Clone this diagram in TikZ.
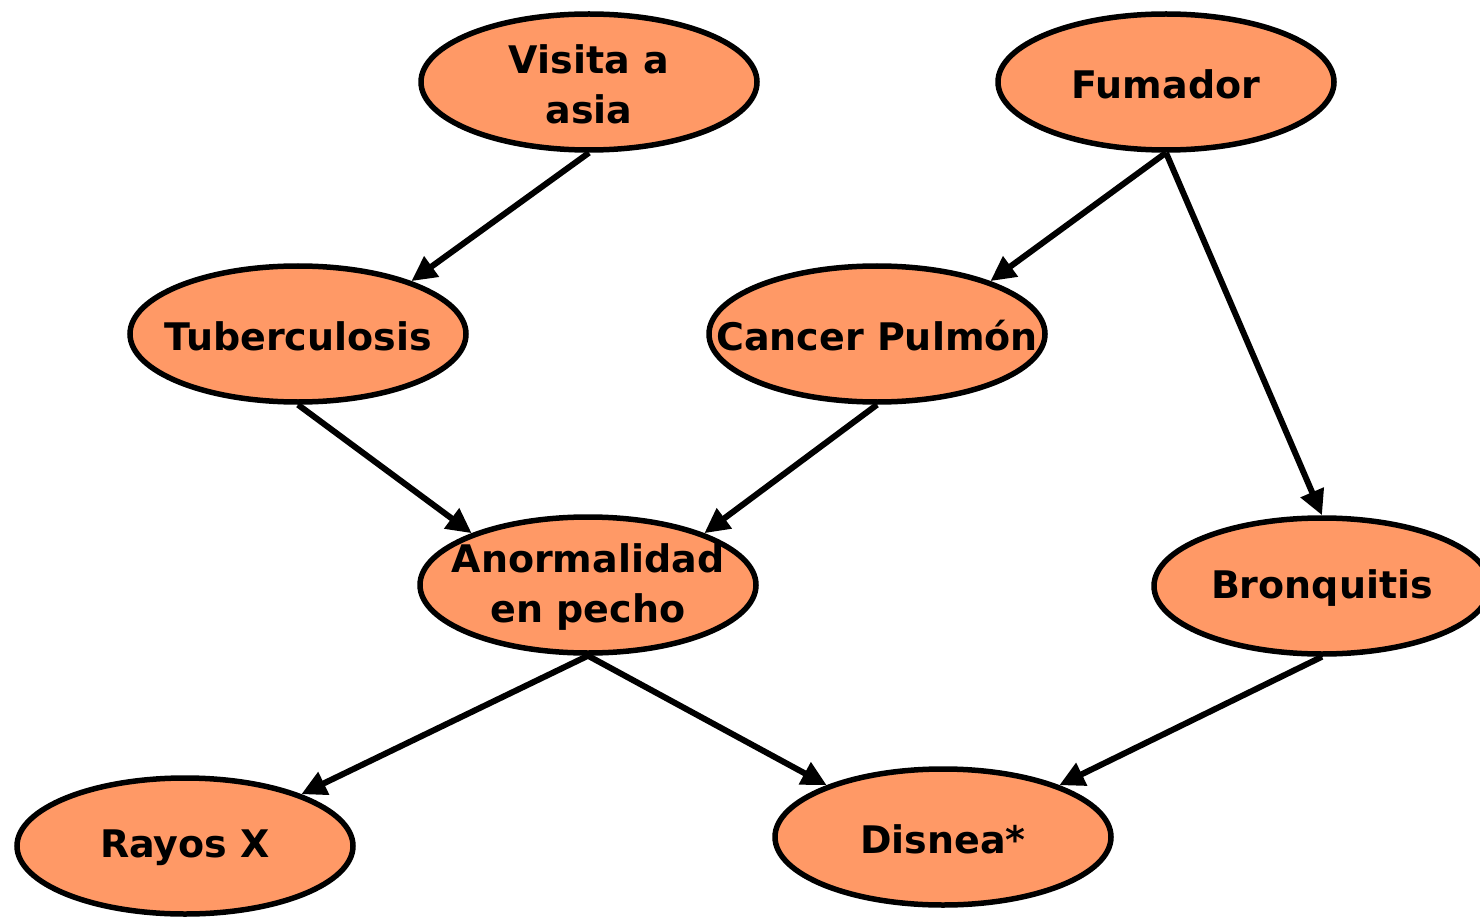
\documentclass[tikz,border=0pt]{standalone}
\usepackage{fontspec}
\setmainfont{DejaVu Sans}
\usetikzlibrary{arrows.meta,shapes.geometric}
\definecolor{nodefill}{HTML}{FF9966}
\begin{document}
\begin{tikzpicture}[x=1pt,y=-1pt,
  nodo/.style={ellipse, draw=black, line width=5.5pt, fill=nodefill,
    minimum width=336pt, minimum height=136pt, inner sep=0pt},
  etiq/.style={font=\fontsize{38}{50}\selectfont\bfseries, align=center, inner sep=0pt},
  flecha/.style={line width=6pt, -{Triangle[length=25pt,width=24pt]}}]
\useasboundingbox (0,0) rectangle (1480,917);
\clip (0,0) rectangle (1480,917);

% ellipses
\node[nodo] (vis) at (589,82) {};
\node[nodo] (fum) at (1166,82) {};
\node[nodo] (tub) at (298,334) {};
\node[nodo] (can) at (877,334) {};
\node[nodo] (ano) at (588,585) {};
\node[nodo] (bro) at (1322,586) {};
\node[nodo] (ray) at (185,846) {};
\node[nodo] (dis) at (943,837) {};

% labels
\node[etiq] (vis-t) at ([yshift=-2pt]vis.center) {Visita a\\asia};
\node[etiq] (fum-t) at ([yshift=-2pt]fum.center) {Fumador};
\node[etiq] (tub-t) at ([yshift=-2pt]tub.center) {Tuberculosis};
\node[etiq] (can-t) at ([yshift=-2pt]can.center) {Cancer Pulmón};
\node[etiq] (ano-t) at ([yshift=-2pt]ano.center) {Anormalidad\\en pecho};
\node[etiq] (bro-t) at ([yshift=-2pt]bro.center) {Bronquitis};
\node[etiq] (ray-t) at ([yshift=-2pt]ray.center) {Rayos X};
\node[etiq] (dis-t) at ([yshift=-2pt]dis.center) {Disnea*};

% dependencies
\draw[flecha] (vis.south) -- (tub.25);
\draw[flecha] (fum.south) -- (can.25);
\draw[flecha] (fum.south) -- (bro.north);
\draw[flecha] (tub.south) -- (ano.156);
\draw[flecha] (can.south) -- (ano.24);
\draw[flecha] (ano.south) -- (ray.24);
\draw[flecha] (ano.south) -- (dis.156);
\draw[flecha] (bro.south) -- (dis.24);
\end{tikzpicture}
\end{document}
